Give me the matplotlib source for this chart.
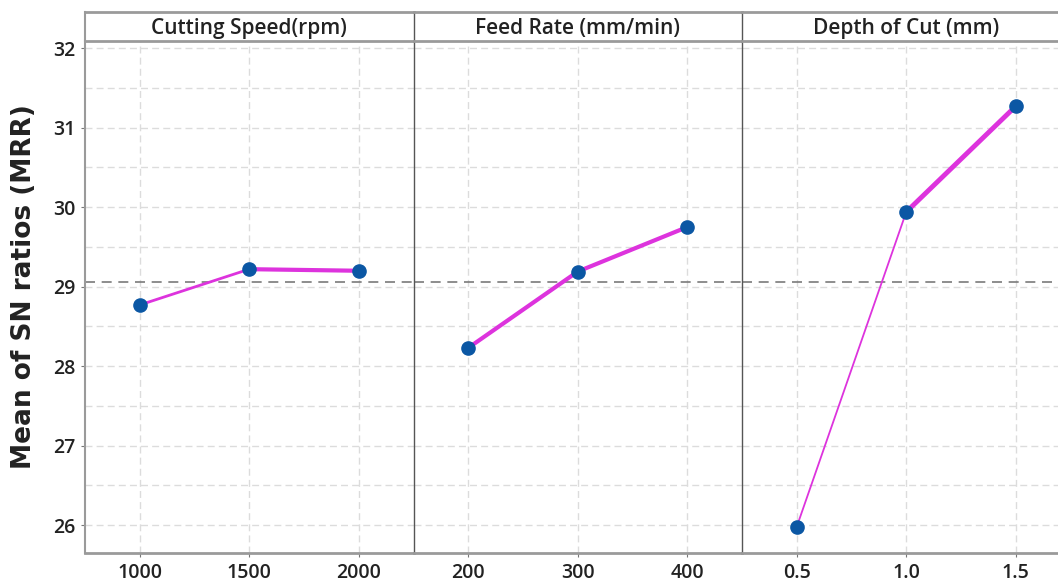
#!/usr/bin/env python3
# Main effects plot for SN ratios (MRR)
import matplotlib
matplotlib.use('Agg')
import matplotlib.pyplot as plt

# %% Data
factors = ['Cutting Speed(rpm)', 'Feed Rate (mm/min)', 'Depth of Cut (mm)']
speed_levels = ['1000', '1500', '2000']
feed_levels = ['200', '300', '400']
depth_levels = ['0.5', '1.0', '1.5']
speed_sn = [28.77, 29.22, 29.20]
feed_sn = [28.23, 29.19, 29.75]
depth_sn = [25.98, 29.94, 31.27]
grand_mean = 29.06

levels = [speed_levels, feed_levels, depth_levels]
values = [speed_sn, feed_sn, depth_sn]
seg_widths = [[2.0, 3.0], [3.0, 3.0], [1.3, 3.5]]

# %% Figure
plt.rcParams['font.family'] = ['Open Sans', 'DejaVu Sans']
W, H = 1058, 582
fig = plt.figure(figsize=(W / 100, H / 100), dpi=100)

left, top, bottom = 85, 41, 553
pw = 328.5
strip_top = 12
line_col = '#dd33dd'
dot_col = '#0b57a4'
frame_col = '#9a9a9a'

axes = []
for i in range(3):
    x0 = left + i * pw
    ax = fig.add_axes([x0 / W, (H - bottom) / H, pw / W, (bottom - top) / H])
    axes.append(ax)
    xs = list(range(len(levels[i])))
    ys = values[i]
    for j in range(len(xs) - 1):
        ax.plot(xs[j:j + 2], ys[j:j + 2], color=line_col, lw=seg_widths[i][j],
                solid_capstyle='round', zorder=3)
    ax.plot(xs, ys, 'o', color=dot_col, ms=9.5, zorder=4)
    ax.axhline(grand_mean, color='#7a7a7a', ls=(0, (6, 4)), lw=1.2, zorder=2)
    ax.set_xlim(-0.5, 2.5)
    ax.set_ylim(25.65, 32.09)
    ax.set_xticks(xs)
    ax.set_xticklabels(levels[i], fontsize=14, fontweight='semibold',
                       color='#222222')
    # grid at every half unit
    for yv in [26 + 0.5 * k for k in range(13)]:
        ax.axhline(yv, color='#dcdcdc', ls=(0, (5, 3)), lw=1.0, zorder=1)
    for xv in xs:
        ax.axvline(xv, color='#dcdcdc', ls=(0, (5, 3)), lw=1.0, zorder=1)
    ax.set_yticks(range(26, 33))
    if i == 0:
        ax.set_yticklabels([str(v) for v in range(26, 33)], fontsize=14,
                           fontweight='semibold', color='#222222')
    else:
        ax.tick_params(axis='y', left=False, labelleft=False)
    ax.tick_params(axis='both', length=3, color='#777777', pad=4)
    for side in ['top', 'right']:
        ax.spines[side].set_visible(False)
    ax.spines['left'].set_color('#555555' if i > 0 else frame_col)
    ax.spines['left'].set_linewidth(1.0 if i > 0 else 1.5)
    ax.spines['bottom'].set_color(frame_col)
    ax.spines['bottom'].set_linewidth(2.0)

    # header strip
    sx = fig.add_axes([x0 / W, (H - top) / H, pw / W, (top - strip_top) / H])
    sx.set_xticks([])
    sx.set_yticks([])
    for side in ['top', 'bottom']:
        sx.spines[side].set_color(frame_col)
        sx.spines[side].set_linewidth(2.0)
    sx.spines['left'].set_color('#555555' if i > 0 else frame_col)
    sx.spines['left'].set_linewidth(1.0 if i > 0 else 1.5)
    sx.spines['right'].set_visible(False)
    sx.text(0.5, 0.42, factors[i], ha='center', va='center', fontsize=15,
            fontweight='semibold', color='#222222', transform=sx.transAxes)

fig.text(24 / W, (H - 287) / H, 'Mean of SN ratios (MRR)', rotation=90,
         ha='center', va='center', fontsize=19, fontweight='semibold',
         family=['DejaVu Sans'], color='#222222')

fig.savefig('out.png', dpi=100)
